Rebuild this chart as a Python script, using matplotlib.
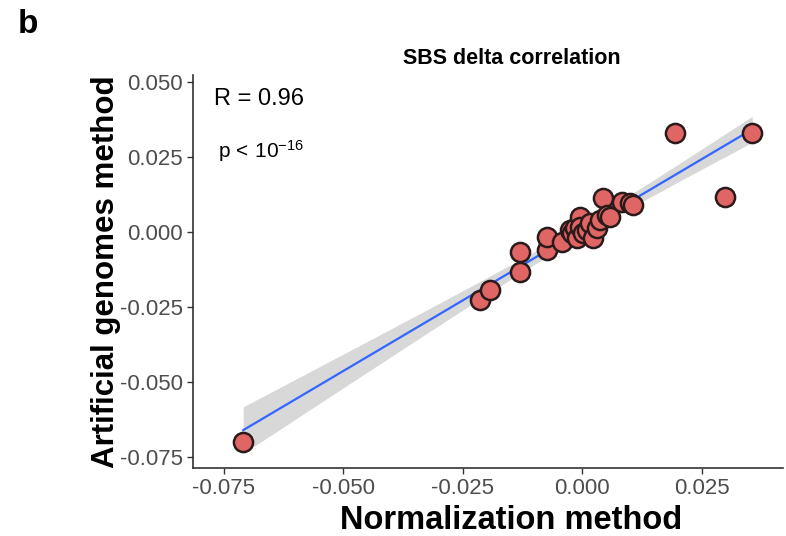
import numpy as np
import matplotlib
matplotlib.use("Agg")
import matplotlib.pyplot as plt

plt.rcParams['font.family'] = ['Liberation Sans', 'DejaVu Sans']
plt.rcParams['mathtext.fontset'] = 'custom'
plt.rcParams['mathtext.rm'] = 'Liberation Sans'
plt.rcParams['mathtext.it'] = 'Liberation Sans:italic'

# SBS delta values
normalization = [
    -0.0709, -0.0213, -0.0192, -0.0130, -0.0130, -0.0073, -0.0073,
    -0.0042, -0.0025, -0.0021, -0.0015, -0.0010, -0.0004, -0.0004,
    0.0002, 0.0010, 0.0017, 0.0023, 0.0031, 0.0038, 0.0044, 0.0052,
    0.0059, 0.0084, 0.0100, 0.0107, 0.0195, 0.0300, 0.0356,
]
artificial = [
    -0.0700, -0.0227, -0.0193, -0.0133, -0.0067, -0.0060, -0.0017,
    -0.0033, 0.0007, -0.0003, 0.0013, -0.0020, 0.0050, 0.0017,
    -0.0003, 0.0007, 0.0030, -0.0020, 0.0013, 0.0040, 0.0113, 0.0057,
    0.0050, 0.0100, 0.0097, 0.0090, 0.0330, 0.0117, 0.0330,
]

x = np.array(normalization)
y = np.array(artificial)

fig = plt.figure(figsize=(7.86, 5.36), dpi=100)
ax = fig.add_axes([0.2455, 0.127, 0.7505, 0.733])

# linear fit + 95% confidence band
slope, icpt = np.polyfit(x, y, 1)
n = len(x)
resid = y - (slope * x + icpt)
s = np.sqrt(np.sum(resid ** 2) / (n - 2))
xs = np.linspace(x.min(), x.max(), 100)
ys = slope * xs + icpt
se = s * np.sqrt(1 / n + (xs - x.mean()) ** 2 / np.sum((x - x.mean()) ** 2))
tq = 2.05
ax.fill_between(xs, ys - tq * se, ys + tq * se, color='#BEBEBE', alpha=0.6,
                lw=0, zorder=1)
ax.plot(xs, ys, color='#3366FF', lw=1.6, zorder=2)

ax.scatter(x, y, s=190, facecolor='#E06666', edgecolor='#2B1A1A',
           linewidth=1.8, zorder=3)

ax.set_xlim(-0.0814, 0.042)
ax.set_ylim(-0.0787, 0.0523)
ticks = [-0.075, -0.050, -0.025, 0.000, 0.025]
ax.set_xticks(ticks)
ax.set_xticklabels(['-0.075', '-0.050', '-0.025', '0.000', '0.025'])
ax.set_yticks(ticks + [0.050])
ax.set_yticklabels(['-0.075', '-0.050', '-0.025', '0.000', '0.025', '0.050'])
ax.tick_params(labelsize=16, length=4, width=1, colors='#333333',
               labelcolor='#4D4D4D')

for side in ['top', 'right']:
    ax.spines[side].set_visible(False)
for side in ['left', 'bottom']:
    ax.spines[side].set_color('#333333')
    ax.spines[side].set_linewidth(1.2)

# the panel is cut off on the right, so labels sit right of the visible centre
ax.set_xlabel('Normalization method', fontsize=23.5, fontweight='bold')
ax.xaxis.set_label_coords(0.54, -0.095)
ax.set_ylabel('Artificial genomes method', fontsize=22.5, fontweight='bold')
ax.yaxis.set_label_coords(-0.122, 0.5)
ax.set_title('SBS delta correlation', fontsize=15.5, fontweight='bold',
             x=0.54, pad=8)

ax.text(0.035, 0.94, 'R = 0.96', transform=ax.transAxes, fontsize=17,
        va='center', ha='left')
ax.text(0.043, 0.807, r'p$\,<\,10^{-16}$', transform=ax.transAxes,
        fontsize=15, va='center', ha='left')

fig.text(0.022, 0.955, 'b', fontsize=24, fontweight='bold', va='center')

fig.savefig('out.png', dpi=100)
